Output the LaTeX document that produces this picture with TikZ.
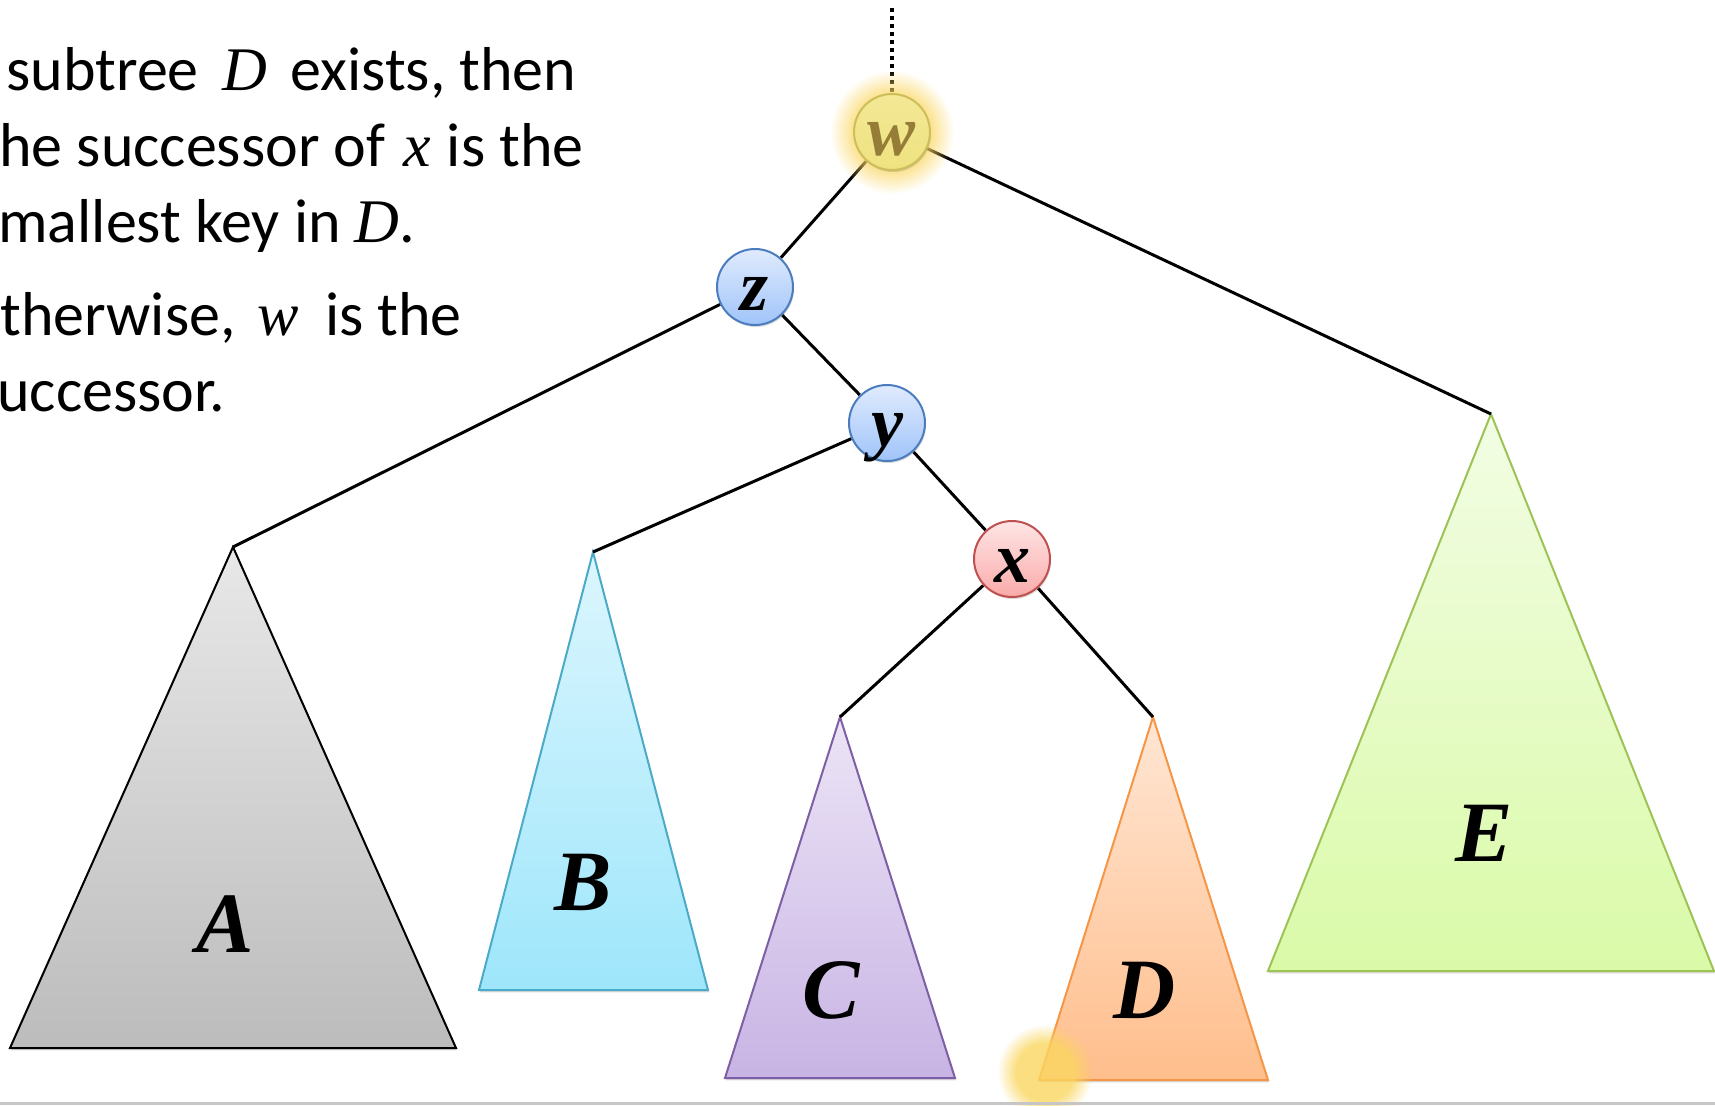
\documentclass[tikz,border=0pt]{standalone}
\usepackage{fontspec}
\setmainfont{Carlito}
\newfontfamily\cambria{Liberation Serif}
\usetikzlibrary{backgrounds,fadings,shadows}

% Couleurs
\definecolor{bleuH}{RGB}{224,235,253}
\definecolor{bleuB}{RGB}{160,196,250}
\definecolor{bleuT}{RGB}{75,125,190}
\definecolor{rougeH}{RGB}{255,229,229}
\definecolor{rougeB}{RGB}{250,170,170}
\definecolor{rougeT}{RGB}{190,80,80}
\definecolor{jauneH}{RGB}{244,232,150}
\definecolor{jauneB}{RGB}{238,226,128}
\definecolor{jauneT}{RGB}{206,190,90}
\definecolor{jauneL}{RGB}{150,125,55}
\definecolor{halo}{RGB}{250,214,96}
\definecolor{grisH}{RGB}{232,232,232}
\definecolor{grisB}{RGB}{188,188,188}
\definecolor{cyanH}{RGB}{220,246,254}
\definecolor{cyanB}{RGB}{158,230,251}
\definecolor{cyanT}{RGB}{75,170,200}
\definecolor{violetH}{RGB}{236,228,246}
\definecolor{violetB}{RGB}{200,180,228}
\definecolor{violetT}{RGB}{125,95,165}
\definecolor{orangeH}{RGB}{255,230,212}
\definecolor{orangeB}{RGB}{255,190,140}
\definecolor{orangeT}{RGB}{245,150,70}
\definecolor{vertH}{RGB}{242,253,228}
\definecolor{vertB}{RGB}{218,250,168}
\definecolor{vertT}{RGB}{155,195,85}

% Halo flou
\pgfdeclareradialshading{haloombre}{\pgfpointorigin}{color(0bp)=(pgftransparent!0);
  color(15bp)=(pgftransparent!0); color(25bp)=(pgftransparent!100); color(50bp)=(pgftransparent!100)}
\pgfdeclarefading{halofondu}{\pgfuseshading{haloombre}}

% Variable en italique (espace avant, espace apres)
\newcommand{\mv}[3]{\hspace{#1}{\cambria\itshape #3}\hspace{#2}}

\begin{document}
\begin{tikzpicture}[x=0.5pt, y=-0.5pt,
  texte/.style={anchor=base west, inner sep=0pt, font=\fontsize{31}{38}\selectfont},
  cle/.style={circle, minimum size=38pt, inner sep=0pt, line width=1pt,
    text height=23pt, text depth=0pt,
    font=\fontsize{36}{36}\cambria\bfseries\itshape,
    drop shadow={opacity=0.3, shadow xshift=0.5pt, shadow yshift=-1pt}},
  bleu/.style={cle, draw=bleuT, top color=bleuH, bottom color=bleuB},
  rouge/.style={cle, draw=rougeT, top color=rougeH, bottom color=rougeB},
  jaune/.style={cle, draw=jauneT, top color=jauneH, bottom color=jauneB, text=jauneL},
  arete/.style={line width=1.5pt},
  sousarbre/.style={line width=1pt, line join=miter,
    drop shadow={opacity=0.3, shadow xshift=0.5pt, shadow yshift=-1.2pt}},
  nom/.style={font=\fontsize{43}{43}\cambria\bfseries\itshape},
]
\useasboundingbox (0,0) rectangle (1715,1105);

% Texte
\node[texte] (l1) at (6,90) {subtree \mv{5pt}{4.5pt}{D} exists, then};
\node[texte] (l2) at (-1,166) {he successor of \mv{2pt}{1pt}{x} is the};
\node[texte] (l3) at (-2,242) {mallest key in \mv{0pt}{0pt}{D}.};
\node[texte] (l4) at (0,335) {therwise, \mv{4pt}{6pt}{w} is the};
\node[texte] (l5) at (-3,411) {uccessor.};

% Noeuds
\node[jaune] (w) at (892,132) {w};
\node[bleu] (z) at (755,287) {z};
\node[bleu] (y) at (887,423) {y};
\node[rouge] (x) at (1012,559) {x};

% Sommets des sous-arbres
\coordinate (haut) at (892,8);
\coordinate (tA) at (233,547);
\coordinate (tB) at (593,552);
\coordinate (tC) at (840,717);
\coordinate (tD) at (1153,717);
\coordinate (tE) at (1491,414);

\begin{scope}[on background layer]
  % Sous-arbres
  \draw[sousarbre, draw=black, top color=grisH, bottom color=grisB]
    (tA) -- ++(223,501) -- ++(-446,0) -- cycle;
  \draw[sousarbre, draw=cyanT, top color=cyanH, bottom color=cyanB]
    (tB) -- ++(115,438) -- ++(-229,0) -- cycle;
  \draw[sousarbre, draw=violetT, top color=violetH, bottom color=violetB]
    (tC) -- ++(115,361) -- ++(-230,0) -- cycle;
  \draw[sousarbre, draw=orangeT, top color=orangeH, bottom color=orangeB]
    (tD) -- ++(115,363) -- ++(-229,0) -- cycle;
  \draw[sousarbre, draw=vertT, top color=vertH, bottom color=vertB]
    (tE) -- ++(223,557) -- ++(-446,0) -- cycle;

  % Aretes
  \draw[line width=2pt, dash pattern=on 2.2pt off 1.8pt] (haut) -- (w);
  \draw[arete] (w) -- (z);
  \draw[arete] (w) -- (tE);
  \draw[arete] (z) -- (tA);
  \draw[arete] (z) -- (y);
  \draw[arete] (y) -- (tB);
  \draw[arete] (y) -- (x);
  \draw[arete] (x) -- (tC);
  \draw[arete] (x) -- (tD);

  % Halo
  \fill[halo, opacity=0.75, path fading=halofondu] (w.center) circle (62);
\end{scope}

% Noms des sous-arbres
\node[nom] (nA) at (225,924) {A};
\node[nom] (nB) at (583,882) {B};
\node[nom] (nC) at (831,990) {C};
\node[nom] (nD) at (1145,990) {D};
\node[nom] (nE) at (1484,833) {E};

% Pointeur
\fill[halo, opacity=0.8, path fading=halofondu] (1045,1072) circle (48);

\draw[gray!45, line width=1.2pt] (0,1103.5) -- (1715,1103.5);

\end{tikzpicture}
\end{document}
